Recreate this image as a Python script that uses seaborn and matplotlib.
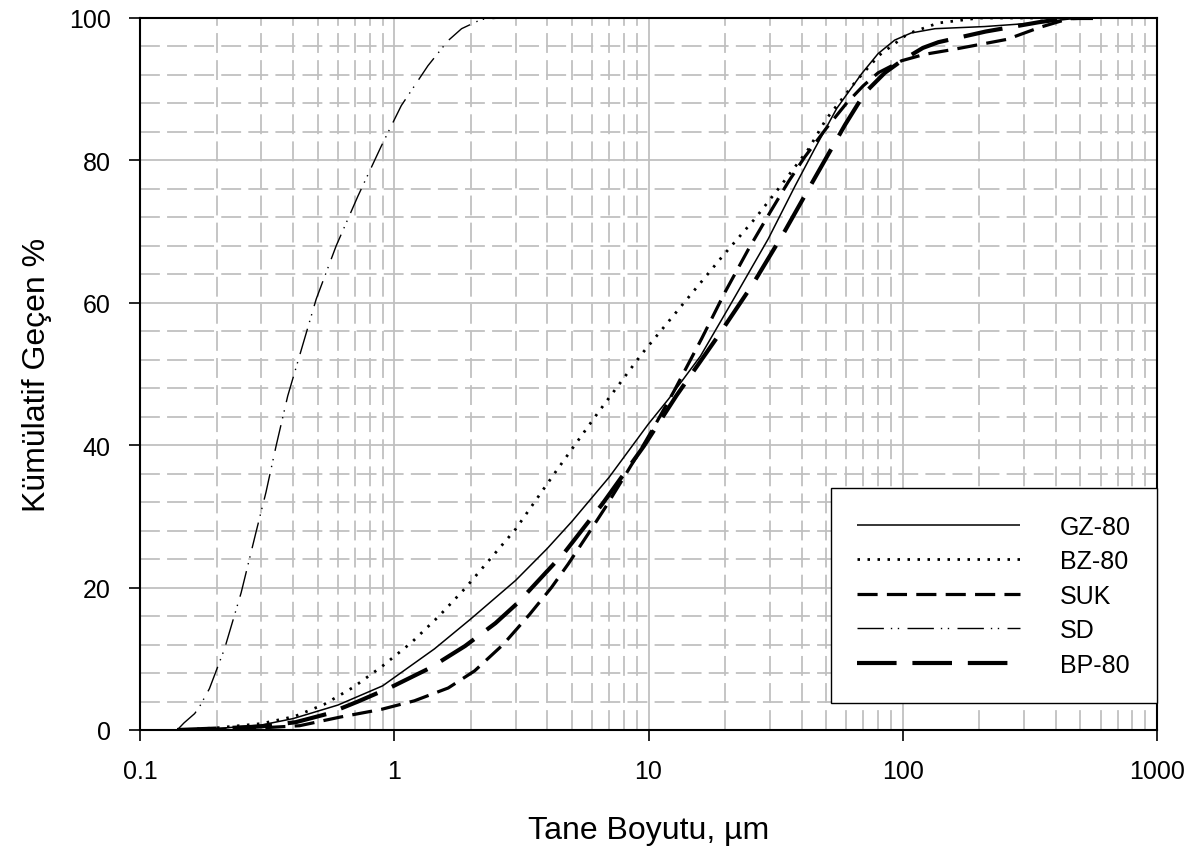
import numpy as np
import pandas as pd
import matplotlib
matplotlib.use("Agg")
import matplotlib.pyplot as plt
import seaborn as sns
from matplotlib.ticker import MultipleLocator, LogLocator, FixedLocator, FixedFormatter, NullFormatter

# ---------------- data ----------------
gz80_x = [0.14, 0.2, 0.3, 0.4, 0.6, 0.9, 1.44, 2.0, 3.0, 4.0, 5.0, 7.0, 10.0, 12.0, 16.0, 21.2,
          29.6, 37.7, 45.0, 55.0, 69.0, 80.0, 93.0, 108.0, 134.0, 210.0, 330.0, 490.0, 560.0]
gz80_y = [0.0, 0.2, 0.7, 1.6, 3.5, 6.2, 11.4, 15.6, 21.0, 25.5, 29.3, 35.5, 43.0, 46.5, 52.5, 60.0,
          69.0, 76.4, 81.6, 87.3, 92.2, 95.0, 96.9, 97.9, 98.5, 98.8, 99.3, 100.0, 100.0]

bz80_x = [0.14, 0.2, 0.3, 0.405, 0.53, 0.69, 0.9, 1.17, 1.5, 1.9, 3.0, 4.34, 6.34, 9.4, 13.5, 19.4,
          26.2, 32.4, 42.6, 50.0, 65.0, 81.0, 105.0, 138.0, 200.0, 300.0, 560.0]
bz80_y = [0.0, 0.3, 0.9, 1.9, 3.6, 6.0, 9.0, 12.3, 16.0, 19.9, 28.2, 36.4, 44.6, 52.8, 59.6, 66.4,
          71.8, 76.0, 81.6, 85.8, 91.0, 94.8, 97.8, 99.3, 100.0, 100.0, 100.0]

suk_x = [0.14, 0.2, 0.3, 0.424, 0.61, 0.89, 1.2, 1.63, 2.07, 2.68, 3.4, 4.15, 4.83, 5.78, 6.75, 8.1,
         9.4, 10.6, 12.6, 16.2, 20.0, 24.7, 29.6, 35.5, 41.2, 50.0, 60.0, 70.0, 80.0, 99.0, 122.0,
         159.0, 257.0, 347.0, 450.0, 560.0]
suk_y = [0.0, 0.1, 0.3, 0.6, 1.8, 2.9, 4.1, 5.9, 8.3, 12.0, 16.2, 20.0, 23.3, 27.5, 31.2, 35.8,
         39.6, 42.8, 47.6, 55.0, 61.5, 67.5, 72.3, 77.0, 80.5, 84.5, 88.0, 90.5, 92.3, 94.0, 94.9,
         95.6, 97.0, 98.7, 99.9, 100.0]

sd_x = [0.14, 0.149, 0.164, 0.171, 0.1875, 0.215, 0.25, 0.286, 0.313, 0.343, 0.381, 0.493, 0.591,
        0.72, 0.889, 1.066, 1.357, 1.626, 1.84, 2.2, 2.6]
sd_y = [0.0, 1.0, 2.3, 3.2, 5.8, 11.4, 19.3, 27.8, 33.4, 39.9, 46.9, 60.5, 68.0,
        75.0, 82.0, 87.7, 93.3, 96.8, 98.5, 99.8, 100.0]

bp80_x = [0.14, 0.2, 0.3, 0.41, 0.55, 0.72, 0.97, 1.38, 1.9, 2.5, 3.07, 4.69, 6.6, 9.6, 12.9, 18.5,
          25.6, 34.4, 45.2, 59.3, 71.0, 85.0, 99.0, 120.0, 138.0, 212.0, 342.0, 450.0, 560.0]
bp80_y = [0.0, 0.2, 0.5, 1.1, 2.3, 4.0, 6.0, 8.7, 11.8, 15.0, 17.9, 25.0, 31.8, 39.9, 47.0, 55.0,
          62.5, 70.1, 77.6, 85.0, 89.5, 92.3, 94.0, 95.8, 96.6, 98.1, 99.4, 100.0, 100.0]

series_names = ["GZ-80", "BZ-80", "SUK", "SD", "BP-80"]
x_tick_values = [0.1, 1, 10, 100, 1000]
x_tick_labels = ["0.1", "1", "10", "100", "1000"]
y_tick_values = [0, 20, 40, 60, 80, 100]
y_tick_labels = ["0", "20", "40", "60", "80", "100"]

frames = []
for name, xs, ys in zip(series_names,
                        [gz80_x, bz80_x, suk_x, sd_x, bp80_x],
                        [gz80_y, bz80_y, suk_y, sd_y, bp80_y]):
    frames.append(pd.DataFrame({"size": xs, "passing": ys, "series": name}))
df = pd.concat(frames, ignore_index=True)

# ---------------- styling ----------------
sns.set_style("white")
plt.rcParams["font.family"] = ["Liberation Sans", "DejaVu Sans"]

styles = {
    "GZ-80": dict(lw=1.1, ls="-"),
    "BZ-80": dict(lw=2.0, ls=(0, (0.9, 2.7))),
    "SUK":   dict(lw=2.3, ls=(0, (6.3, 2.9))),
    "SD":    dict(lw=1.0, ls=(0, (19, 5, 1, 4, 1, 6))),
    "BP-80": dict(lw=3.0, ls=(0, (9.5, 3.8))),
}

fig = plt.figure(figsize=(11.84, 8.54), dpi=100)
ax = fig.add_axes([140 / 1184, 1 - 731 / 854, (1157 - 140) / 1184, (731 - 19) / 854])

for name in series_names:
    sub = df[df["series"] == name]
    st = styles[name]
    sns.lineplot(data=sub, x="size", y="passing", ax=ax, color="black",
                 linewidth=st["lw"], linestyle=st["ls"], label=name,
                 estimator=None, sort=False)

for ln in ax.get_lines():
    ln.set_dash_capstyle("butt")
    ln.set_solid_capstyle("butt")

ax.set_xscale("log")
ax.set_xlim(0.1, 1000)
ax.set_ylim(0, 100)

ax.xaxis.set_major_locator(FixedLocator(x_tick_values))
ax.xaxis.set_major_formatter(FixedFormatter(x_tick_labels))
ax.xaxis.set_minor_locator(LogLocator(base=10, subs=np.arange(2, 10)))
ax.xaxis.set_minor_formatter(NullFormatter())
ax.yaxis.set_major_locator(FixedLocator(y_tick_values))
ax.yaxis.set_major_formatter(FixedFormatter(y_tick_labels))
ax.yaxis.set_minor_locator(MultipleLocator(4))

grid_color = "#c0c0c0"
ax.set_axisbelow(True)
ax.grid(which="major", color=grid_color, linewidth=1.3, linestyle="-")
ax.grid(which="minor", color=grid_color, linewidth=1.3, linestyle=(0, (11, 4)))

ax.tick_params(which="major", direction="out", length=8, width=1.2, color="black",
               labelsize=18, labelcolor="black", bottom=True, left=True)
ax.tick_params(axis="x", which="major", pad=13)
ax.tick_params(axis="y", which="major", pad=13)
ax.tick_params(which="minor", length=0)
for sp in ax.spines.values():
    sp.set_color("black")
    sp.set_linewidth(1.5)
    sp.set_visible(True)

ax.set_xlabel("Tane Boyutu, µm", fontsize=23, color="black")
ax.set_ylabel("Kümülatif Geçen %", fontsize=23, color="black")
ax.xaxis.set_label_coords(0.5, -0.12)
ax.yaxis.set_label_coords(-0.087, 0.5)

leg = ax.legend(loc="lower right", bbox_to_anchor=(1.0, 0.038), borderaxespad=0,
                fontsize=18, frameon=True, fancybox=False, framealpha=1,
                edgecolor="black", handlelength=6.5, handletextpad=1.6,
                borderpad=1.05, labelspacing=0.42, markerfirst=True)
leg.get_frame().set_linewidth(1.0)
for t in leg.get_texts():
    t.set_color("black")

fig.savefig("out.png", dpi=100)
